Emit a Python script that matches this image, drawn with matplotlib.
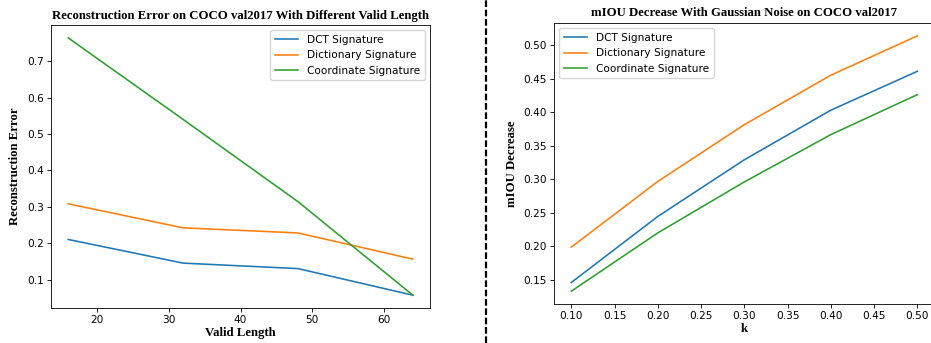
import matplotlib
matplotlib.use("Agg")
from matplotlib import pyplot as plt
from matplotlib.lines import Line2D

# left panel: reconstruction error vs valid length
valid_length = [16, 32, 48, 64]
rec_dct = [0.210, 0.145, 0.130, 0.057]
rec_dict = [0.308, 0.242, 0.228, 0.156]
rec_coord = [0.764, 0.540, 0.314, 0.057]

# right panel: mIOU decrease vs noise level k
k_vals = [0.1, 0.2, 0.3, 0.4, 0.5]
miou_dct = [0.146, 0.2445, 0.329, 0.403, 0.461]
miou_dict = [0.1987, 0.2967, 0.3814, 0.4552, 0.5139]
miou_coord = [0.133, 0.220, 0.296, 0.3666, 0.4262]

labels = ["DCT Signature", "Dictionary Signature", "Coordinate Signature"]
colors = ["#1f77b4", "#ff7f0e", "#2ca02c"]

serif = ["Liberation Serif", "DejaVu Serif"]
tick_fs = 7.6
head_fs = 9.2
lw = 1.15

fig = plt.figure(figsize=(9.31, 3.43), dpi=100)

ax1 = fig.add_axes([0.0548, 0.102, 0.4071, 0.825])
for ys, lab, c in zip([rec_dct, rec_dict, rec_coord], labels, colors):
    ax1.plot(valid_length, ys, color=c, lw=lw, label=lab)
ax1.set_title("Reconstruction Error on COCO val2017 With Different Valid Length",
              family=serif, fontweight="bold", fontsize=head_fs, pad=4)
ax1.set_xlabel("Valid Length", family=serif, fontweight="bold", fontsize=head_fs, labelpad=1)
ax1.set_ylabel("Reconstruction Error", family=serif, fontweight="bold", fontsize=head_fs, labelpad=4)
ax1.legend(loc="upper right", fontsize=tick_fs, handlelength=2.2, borderpad=0.45)

ax2 = fig.add_axes([0.595, 0.1137, 0.4089, 0.819])
for ys, lab, c in zip([miou_dct, miou_dict, miou_coord], labels, colors):
    ax2.plot(k_vals, ys, color=c, lw=lw, label=lab)
ax2.set_title("mIOU Decrease With Gaussian Noise on COCO val2017",
              family=serif, fontweight="bold", fontsize=head_fs, pad=5)
ax2.set_xlabel("k", family=serif, fontweight="bold", fontsize=head_fs, labelpad=1)
ax2.set_ylabel("mIOU Decrease", family=serif, fontweight="bold", fontsize=head_fs, labelpad=4)
ax2.set_xticks(k_vals + [0.15, 0.25, 0.35, 0.45])
ax2.xaxis.set_major_formatter(matplotlib.ticker.FormatStrFormatter("%.2f"))
ax2.yaxis.set_major_formatter(matplotlib.ticker.FormatStrFormatter("%.2f"))
ax2.legend(loc="upper left", fontsize=tick_fs, handlelength=2.2, borderpad=0.45)

for ax in (ax1, ax2):
    ax.tick_params(labelsize=tick_fs, length=2.7, width=0.6, pad=2.5)
    for sp in ax.spines.values():
        sp.set_linewidth(0.6)

# dashed separator between the two figures
fig.add_artist(Line2D([0.522, 0.522], [0, 1], transform=fig.transFigure,
                      color="black", lw=1.6, ls=(0, (3, 1.2))))

fig.savefig("out.png", dpi=100)
